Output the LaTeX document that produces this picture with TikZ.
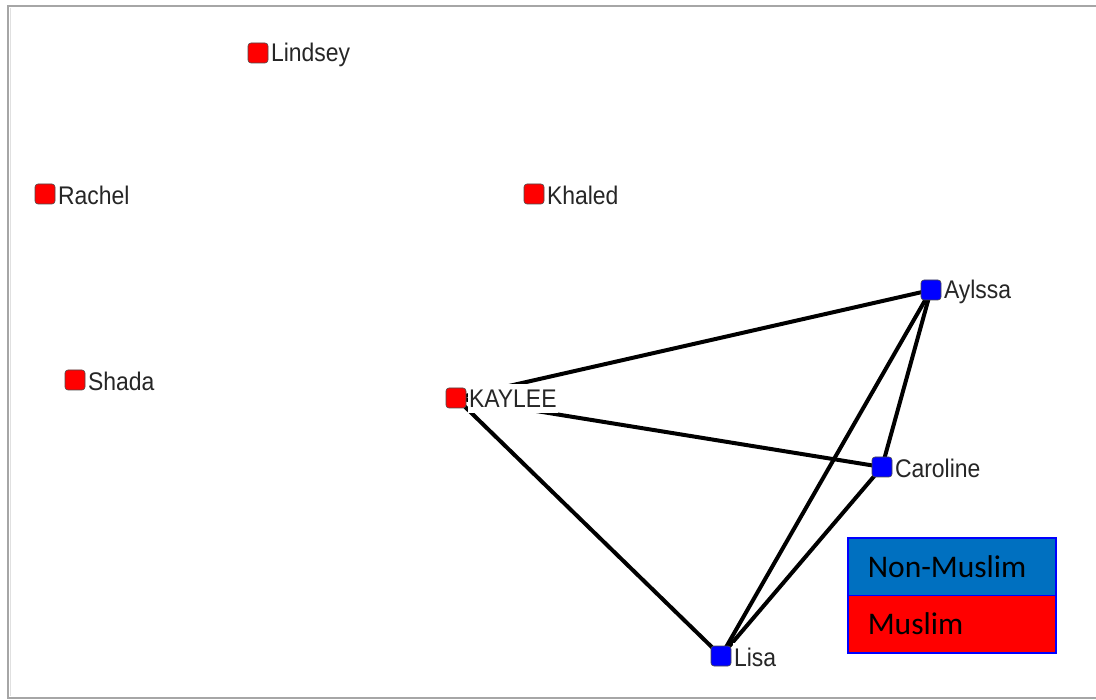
\documentclass[tikz,border=0pt]{standalone}
\usepackage{fontspec}
\newfontfamily\lblfont[FakeStretch=0.9]{Liberation Sans}
\newfontfamily\legfont{Carlito}
\usetikzlibrary{backgrounds,positioning}
\definecolor{nmblue}{HTML}{0070C0}
\definecolor{sqred}{HTML}{FF0000}
\definecolor{sqblue}{HTML}{0000FF}
\tikzset{
  sq/.style={rectangle, rounded corners=3pt, minimum size=20pt, inner sep=0pt, draw=black!70, line width=0.6pt},
  mus/.style={sq, fill=sqred},
  nonmus/.style={sq, fill=sqblue},
  lbl/.style={font=\lblfont\fontsize{25.5}{28}\selectfont, text=black!85, inner xsep=1.5pt, inner ysep=0pt, minimum height=29pt, fill=white, anchor=west},
  tie/.style={line width=4pt, black},
  legbox/.style={rectangle, minimum width=208pt, minimum height=57.5pt, draw=sqblue, line width=1.6pt, text=black, font=\legfont\fontsize{31.5}{34}\selectfont, text width=168pt, align=left, inner sep=0pt},
  frame/.style={draw=black!35, line width=1.8pt}
}
\begin{document}
\begin{tikzpicture}[x=1pt,y=-1pt]
\useasboundingbox (0,0) rectangle (1096,700);
% nodes
\node[mus] (lindsey) at (258,53) {};
\node[lbl] (lindseyL) at ([xshift=1pt,yshift=-1.5pt]lindsey.east) {Lindsey};
\node[mus] (rachel) at (45,194) {};
\node[lbl] (rachelL) at ([xshift=1pt,yshift=-1.5pt]rachel.east) {Rachel};
\node[mus] (khaled) at (534,194) {};
\node[lbl] (khaledL) at ([xshift=1pt,yshift=-1.5pt]khaled.east) {Khaled};
\node[mus] (shada) at (75,380) {};
\node[lbl] (shadaL) at ([xshift=1pt,yshift=-1.5pt]shada.east) {Shada};
\node[mus] (kaylee) at (456,398) {};
\node[lbl] (kayleeL) at ([xshift=1pt,yshift=-0.5pt]kaylee.east) {KAYLEE};
\node[nonmus] (aylssa) at (931,290) {};
\node[lbl] (aylssaL) at ([xshift=1pt,yshift=-1.5pt]aylssa.east) {Aylssa};
\node[nonmus] (caroline) at (882,467) {};
\node[lbl] (carolineL) at ([xshift=1pt,yshift=-1.5pt]caroline.east) {Caroline};
\node[nonmus] (lisa) at (721,656) {};
\node[lbl] (lisaL) at ([xshift=1pt,yshift=-1.5pt]lisa.east) {Lisa};
% background, frame and edges
\begin{pgfonlayer}{background}
\fill[white] (0,0) rectangle (1096,700);
\draw[frame] (1096,6) -- (8,6) -- (8,698) -- (1096,698);
\draw[black!12, line width=1.5pt] (10.5,8.5) -- (10.5,695.5);
\draw[tie] (kaylee.center) -- (aylssa.center);
\draw[tie] (kaylee.center) -- (caroline.center);
\draw[tie] (kaylee.center) -- (lisa.center);
\draw[tie] (aylssa.center) -- (caroline.center);
\draw[tie] (aylssa.center) -- (lisa.center);
\draw[tie] (caroline.center) -- (lisa.center);
\end{pgfonlayer}
% legend
\node[legbox, fill=nmblue, anchor=north west] (legnm) at (847,537) {Non-Muslim};
\node[legbox, fill=sqred, anchor=north west] (legm) at (847,594.5) {Muslim};
\end{tikzpicture}
\end{document}
